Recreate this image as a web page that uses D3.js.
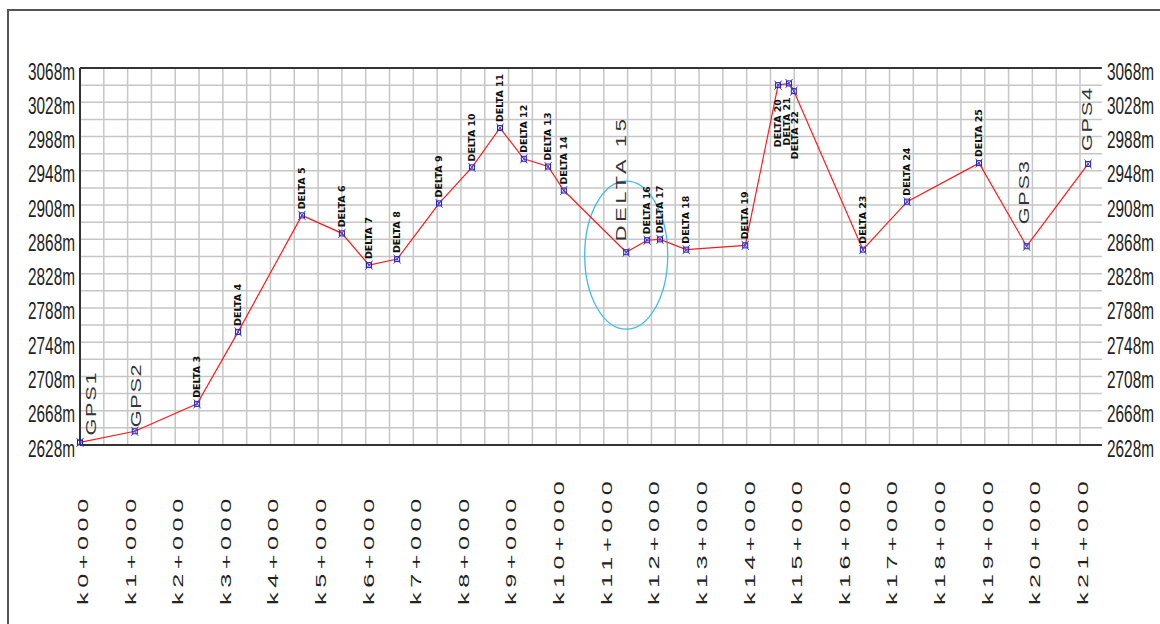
<!DOCTYPE html>
<html>
<head>
<meta charset="utf-8">
<script src="https://cdn.jsdelivr.net/npm/d3@7"></script>
<style>
  html, body { margin: 0; padding: 0; background: #fff; }
  svg { display: block; }
</style>
</head>
<body>
<div id="wrapper"></div>
<script>
// stations along the profile: name, chainage (km), elevation (m)
const stationNames = ['GPS1', 'GPS2', 'DELTA 3', 'DELTA 4', 'DELTA 5', 'DELTA 6', 'DELTA 7', 'DELTA 8',
  'DELTA 9', 'DELTA 10', 'DELTA 11', 'DELTA 12', 'DELTA 13', 'DELTA 14', 'DELTA 15', 'DELTA 16',
  'DELTA 17', 'DELTA 18', 'DELTA 19', 'DELTA 20', 'DELTA 21', 'DELTA 22', 'DELTA 23', 'DELTA 24',
  'DELTA 25', 'GPS3', 'GPS4'];
const stationKm = [0.00, 1.15, 2.46, 3.32, 4.66, 5.50, 6.07, 6.66, 7.54, 8.23, 8.82, 9.32, 9.83, 10.16,
  11.47, 11.91, 12.18, 12.73, 13.97, 14.66, 14.89, 14.99, 16.44, 17.37, 18.88, 19.88, 21.17];
const stationElev = [2631, 2644, 2676, 2760, 2896, 2875, 2838, 2845, 2910, 2952, 2998, 2962, 2953, 2925,
  2853, 2867, 2868, 2856, 2861, 3048, 3050, 3041, 2856, 2912, 2957, 2860, 2956];

// stations written in the big font, and the peak cluster whose labels hang below
const bigLabels = ['GPS1', 'GPS2', 'GPS3', 'GPS4', 'DELTA 15'];
const belowLabels = ['DELTA 20', 'DELTA 21', 'DELTA 22'];
const circled = 'DELTA 15';

const kmTicks = d3.range(0, 22);            // k0+000 ... k21+000
const elevTicks = d3.range(2628, 3069, 40); // 2628m ... 3068m
const elevMin = 2628, elevMax = 3068, kmMax = 21.46;

const dataset = stationNames.map((n, i) => ({ name: n, km: stationKm[i], elev: stationElev[i] }));

const width = 1160, height = 624;

const svg = d3.select('#wrapper').append('svg')
  .attr('width', width).attr('height', height);

const xScale = d3.scaleLinear().domain([0, 21]).range([80, 1080]);
const yScale = d3.scaleLinear().domain([elevMin, elevMax]).range([445, 68]);

// outer frame
svg.append('path')
  .attr('d', `M8,${height + 2} L8,10 L${width + 2},10`)
  .attr('fill', 'none').attr('stroke', '#555').attr('stroke-width', 2);

// grid
const grid = svg.append('g');
grid.selectAll('line.h').data(d3.range(elevMin + 20, elevMax, 20)).join('line')
  .attr('x1', xScale(0)).attr('x2', xScale(kmMax))
  .attr('y1', d => yScale(d)).attr('y2', d => yScale(d))
  .attr('stroke', '#c6c6c6').attr('stroke-width', 1.5);
grid.selectAll('line.v').data(d3.range(0.5, 21.01, 0.5)).join('line')
  .attr('x1', d => xScale(d)).attr('x2', d => xScale(d))
  .attr('y1', yScale(elevMax)).attr('y2', yScale(elevMin))
  .attr('stroke', '#c6c6c6').attr('stroke-width', 1.5);

// frame of the plot
[elevMin, elevMax].forEach(e => {
  svg.append('line')
    .attr('x1', xScale(0)).attr('x2', xScale(kmMax))
    .attr('y1', yScale(e)).attr('y2', yScale(e))
    .attr('stroke', '#333').attr('stroke-width', 2);
});
svg.append('line')
  .attr('x1', xScale(0)).attr('x2', xScale(0))
  .attr('y1', yScale(elevMax)).attr('y2', yScale(elevMin))
  .attr('stroke', '#333').attr('stroke-width', 2);

// elevation labels, both sides (narrow lettering: squeeze each label to ~47px)
const yLab = svg.append('g')
  .style('font-family', '"Liberation Sans", Arial, sans-serif')
  .style('font-size', '23px').attr('fill', '#222');
function squeeze(sel, x, anchorEnd) {
  sel.each(function (d) {
    const t = d3.select(this);
    const s = 47 / this.getComputedTextLength();
    t.attr('transform', `translate(${x},${yScale(d) + 11.5}) scale(${s},1)`);
  });
}
yLab.selectAll('text.l').data(elevTicks).join('text')
  .attr('text-anchor', 'end')
  .text(d => d + 'm')
  .call(squeeze, 75);
yLab.selectAll('text.r').data(elevTicks).join('text')
  .text(d => d + 'm')
  .call(squeeze, 1107);

// chainage labels (wide, spaced-out lettering)
const stretch = 1.8;
svg.append('g')
  .style('font-family', '"Liberation Sans", Arial, sans-serif')
  .style('font-size', '14px').attr('fill', '#222')
  .selectAll('text').data(kmTicks).join('text')
  .attr('transform', d => `translate(${xScale(d) + 3},605) rotate(-90) scale(${stretch},1)`)
  .attr('dy', '0.35em')
  .attr('textLength', d => `k${d}+000`.length * 17.7 / stretch)
  .text(d => `k${d}+000`);

// circle round DELTA 15
const c = dataset.find(d => d.name === circled);
svg.append('ellipse')
  .attr('cx', xScale(c.km)).attr('cy', yScale(c.elev) + 3)
  .attr('rx', 41.5).attr('ry', 74)
  .attr('fill', 'none').attr('stroke', '#3cbcec').attr('stroke-width', 1.3);

// profile line
const line = d3.line().x(d => xScale(d.km)).y(d => yScale(d.elev));
svg.append('path').datum(dataset)
  .attr('d', line)
  .attr('fill', 'none').attr('stroke', '#ff1a1a').attr('stroke-width', 1.2);

// station markers
const marks = svg.append('g').selectAll('g').data(dataset).join('g')
  .attr('transform', d => `translate(${xScale(d.km)},${yScale(d.elev)})`);
marks.append('rect')
  .attr('x', -2.5).attr('y', -2.5).attr('width', 5).attr('height', 5)
  .attr('fill', 'none').attr('stroke', '#1c1cb0').attr('stroke-width', 1);
marks.append('path')
  .attr('d', 'M-3.5,-4.5L3.5,4.5M3.5,-4.5L-3.5,4.5')
  .attr('stroke', '#4040e0').attr('stroke-width', 1);

// small station labels
const small = dataset.filter(d => !bigLabels.includes(d.name));
const below = dataset.filter(d => belowLabels.includes(d.name));
const belowMid = d3.mean(below, d => xScale(d.km));
svg.append('g')
  .style('font-family', '"DejaVu Sans", sans-serif')
  .style('font-size', '8px').style('font-weight', 'bold').attr('fill', '#111')
  .selectAll('text').data(small).join('text')
  .attr('transform', d => {
    let x = xScale(d.km), y = yScale(d.elev) - 6;
    const bi = belowLabels.indexOf(d.name);
    if (bi >= 0) {
      x = belowMid + (bi - 1) * 8.5;
      y = yScale(d.elev) + 62 + (bi === 2 ? 6 : 0);
    }
    return `translate(${x},${y}) rotate(-90)`;
  })
  .attr('dy', '0.35em')
  .attr('textLength', d => d.name.length * 6)
  .attr('lengthAdjust', 'spacingAndGlyphs')
  .text(d => d.name);

// big station labels
const bigShift = { 'GPS1': [11, -7], 'GPS2': [1, -4], 'GPS3': [-3, -22], 'GPS4': [-1, -13], 'DELTA 15': [-5, -11] };
const bigStretch = 1.45;
svg.append('g')
  .style('font-family', '"Liberation Sans", Arial, sans-serif')
  .style('font-size', '15px').attr('fill', '#333')
  .selectAll('text').data(dataset.filter(d => bigLabels.includes(d.name))).join('text')
  .attr('transform', d => {
    const s = bigShift[d.name];
    return `translate(${xScale(d.km) + s[0]},${yScale(d.elev) + s[1]}) rotate(-90) scale(${bigStretch},1)`;
  })
  .attr('dy', '0.35em')
  .attr('textLength', d => (d.name === circled ? 122 : 63) / bigStretch)
  .text(d => d.name);
</script>
</body>
</html>
